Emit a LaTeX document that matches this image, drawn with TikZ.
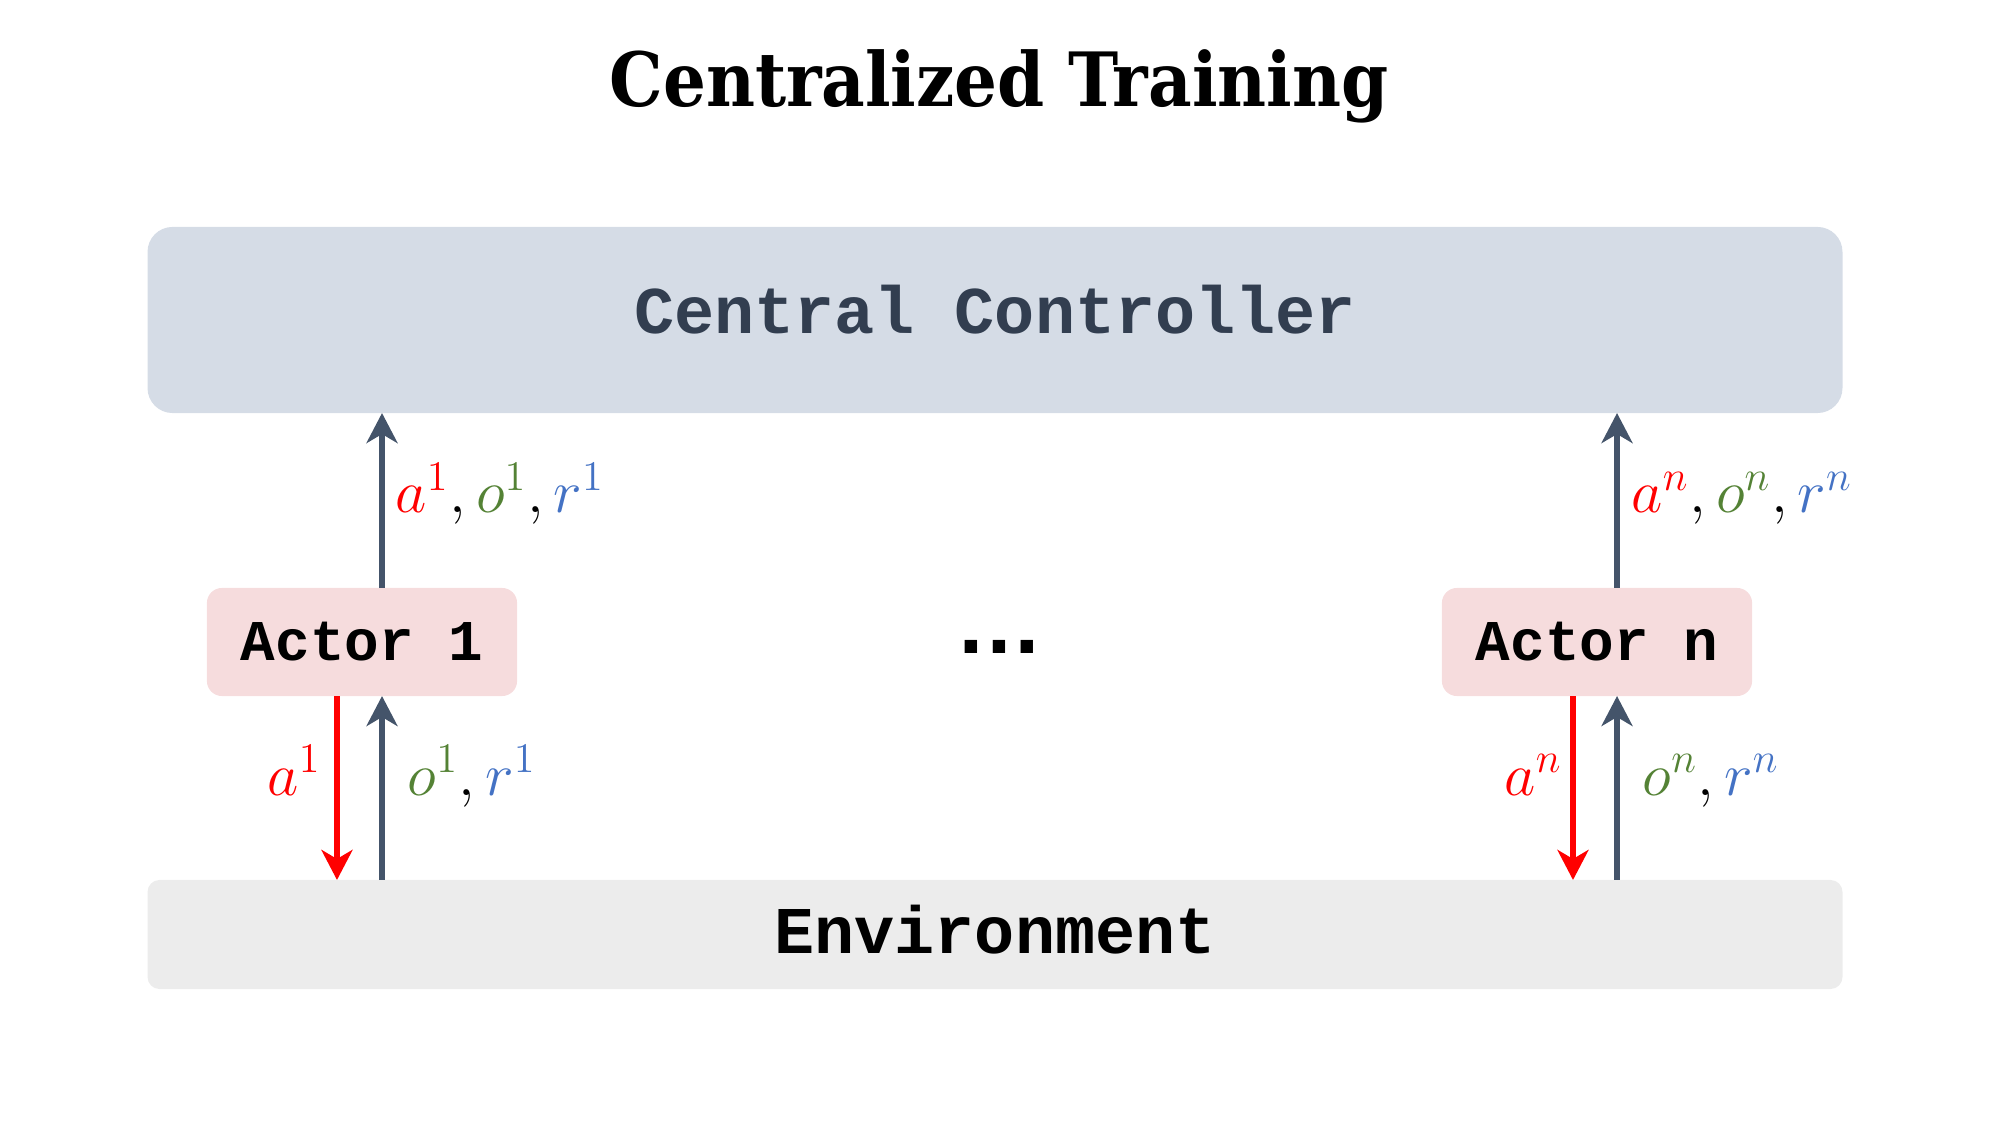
\documentclass[tikz,border=0pt]{standalone}
\usepackage{fontspec}
\setmainfont{Liberation Serif}
\setmonofont{Liberation Mono}
\newfontfamily\titlefont{DejaVu Serif Condensed}[BoldFont={DejaVu Serif Condensed Bold}]
\newfontfamily\dotsfont{Liberation Sans}
\usetikzlibrary{arrows.meta}
\definecolor{ctrlfill}{HTML}{D5DCE6}
\definecolor{ctrltext}{HTML}{323E50}
\definecolor{actfill}{HTML}{F6DCDD}
\definecolor{envfill}{HTML}{ECECEC}
\definecolor{arrdark}{HTML}{44546A}
\definecolor{mred}{HTML}{FF0000}
\definecolor{mgreen}{HTML}{548235}
\definecolor{mblue}{HTML}{4472C4}
\tikzset{
  box/.style={inner sep=0pt, outer sep=0pt},
  ctrlbox/.style={box, fill=ctrlfill, rounded corners=0.25cm, minimum width=16.94cm, minimum height=1.86cm},
  actbox/.style={box, fill=actfill, rounded corners=0.15cm, minimum width=3.10cm, minimum height=1.08cm, font=\ttfamily\bfseries\fontsize{16.4}{19}\selectfont},
  envbox/.style={box, fill=envfill, rounded corners=0.12cm, minimum width=16.94cm, minimum height=1.09cm},
  boxtext/.style={inner sep=0pt, font=\ttfamily\bfseries\fontsize{19}{22}\selectfont},
  darrow/.style={draw=arrdark, line width=1.45pt, -{Stealth[length=0.30cm, width=0.31cm, inset=0.09cm]}},
  rarrow/.style={draw=mred, line width=1.45pt, -{Stealth[length=0.30cm, width=0.31cm, inset=0.09cm]}},
  mlabel/.style={inner sep=0pt, font=\fontsize{17.5}{20}\selectfont},
}
\begin{document}
\begin{tikzpicture}[x=0.01cm, y=-0.01cm]
\useasboundingbox (0,0) rectangle (2000,1125);
\node[inner sep=0pt, anchor=base, font=\titlefont\bfseries\fontsize{21.3}{26}\selectfont] (title) at (999,107) {Centralized Training};
\node[ctrlbox] (ctrl) at (995,320) {};
\node[boxtext, text=ctrltext] (ctrlT) at (995,310) {Central Controller};
\node[actbox] (a1) at (362,642) {Actor 1};
\node[actbox] (an) at (1597,642) {Actor n};
\node[envbox] (env) at (995,934.5) {};
\node[boxtext] (envT) at (995,930) {Environment};
\node[inner sep=0pt, anchor=base, font=\dotsfont\bfseries\fontsize{25}{28}\selectfont] (dots) at (999,654) {…};
% actor 1 arrows
\draw[darrow] ([xshift=0.20cm]a1.north) -- ([xshift=0.20cm]a1.north |- ctrl.south);
\draw[rarrow] ([xshift=-0.25cm]a1.south) -- ([xshift=-0.25cm]a1.south |- env.north);
\draw[darrow] ([xshift=0.20cm]a1.south |- env.north) -- ([xshift=0.20cm]a1.south);
% actor n arrows
\draw[darrow] ([xshift=0.20cm]an.north) -- ([xshift=0.20cm]an.north |- ctrl.south);
\draw[rarrow] ([xshift=-0.24cm]an.south) -- ([xshift=-0.24cm]an.south |- env.north);
\draw[darrow] ([xshift=0.20cm]an.south |- env.north) -- ([xshift=0.20cm]an.south);
% labels
\node[mlabel, anchor=base west] (l1u) at (395,513) {$\color{mred}a^1\color{black},\color{mgreen}o^1\color{black},\color{mblue}r^1$};
\node[mlabel, anchor=base east] (l1a) at (322,795) {$\color{mred}a^1$};
\node[mlabel, anchor=base west] (l1o) at (407,795) {$\color{mgreen}o^1\color{black},\color{mblue}r^1$};
\node[mlabel, anchor=base west] (lnu) at (1631,513) {$\color{mred}a^n\color{black},\color{mgreen}o^n\color{black},\color{mblue}r^n$};
\node[mlabel, anchor=base east] (lna) at (1563,795) {$\color{mred}a^n$};
\node[mlabel, anchor=base west] (lno) at (1642,795) {$\color{mgreen}o^n\color{black},\color{mblue}r^n$};
\end{tikzpicture}
\end{document}
